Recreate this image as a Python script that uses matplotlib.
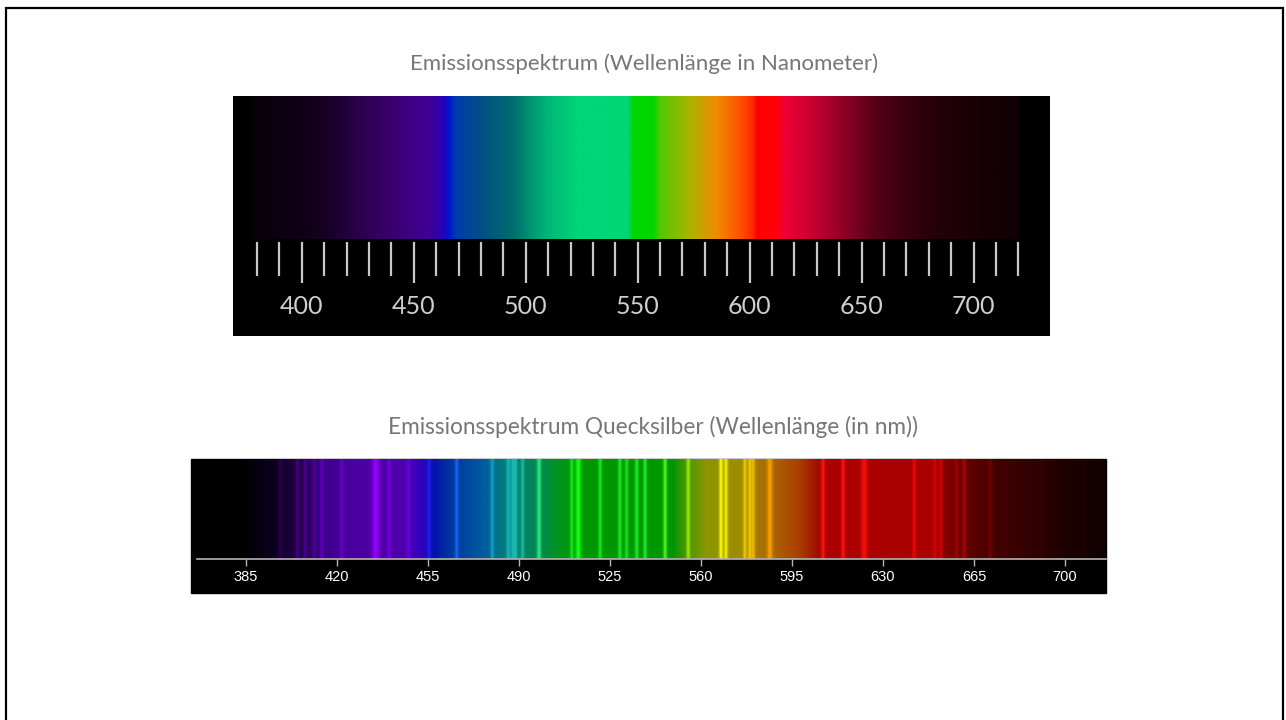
import numpy as np
import matplotlib.pyplot as plt
from matplotlib.patches import Rectangle

W, H = 1286, 720

# continuous spectrum: colour stops (wavelength in nm, RGB)
cont_nm = [380, 398, 413, 427, 442, 457, 463, 465.5, 469, 481, 494.5, 509, 524,
           545.5, 548, 557, 560, 573, 585, 596, 601.5, 603, 612, 615, 625, 640,
           655, 670, 685, 700, 720.5]
cont_rgb = [(8, 0, 8), (15, 0, 20), (25, 0, 40), (45, 0, 80), (60, 0, 115),
            (65, 0, 150), (40, 0, 180), (0, 20, 210), (0, 60, 170), (0, 80, 130),
            (0, 110, 110), (0, 180, 120), (0, 215, 120), (0, 215, 115), (0, 215, 0),
            (0, 215, 0), (80, 200, 0), (170, 180, 0), (240, 140, 0), (255, 80, 0),
            (255, 40, 0), (255, 0, 0), (255, 0, 10), (240, 0, 50), (210, 0, 50),
            (150, 0, 40), (90, 0, 25), (55, 0, 15), (35, 0, 8), (25, 0, 5), (15, 0, 5)]
scale_ticks = np.arange(380, 721, 10)
scale_labels = [400, 450, 500, 550, 600, 650, 700]

# mercury: background continuum
hg_bg_nm = [382.7, 389, 396.8, 405.8, 414.7, 427.6, 446.8, 451.9, 457.7, 462.8,
            475.7, 483.3, 492.3, 501.3, 506.4, 514, 549.3, 553.2, 562.2, 575,
            587.8, 598.1, 604.5, 608.3, 649, 652.6, 661.5, 671.8, 687.2, 700, 716]
hg_bg_rgb = [(0, 0, 0), (5, 0, 15), (15, 0, 35), (35, 0, 75), (60, 0, 140),
             (75, 0, 160), (80, 0, 175), (55, 0, 190), (0, 20, 170), (0, 50, 160),
             (0, 90, 160), (0, 120, 130), (0, 130, 100), (0, 140, 60), (0, 150, 20),
             (0, 150, 0), (0, 150, 0), (60, 150, 0), (140, 150, 0), (160, 140, 0),
             (170, 100, 0), (170, 60, 0), (160, 15, 0), (170, 0, 0), (170, 0, 0),
             (140, 0, 0), (100, 0, 0), (70, 0, 0), (50, 0, 0), (30, 0, 0), (15, 0, 0)]
# colour of the emission lines
hg_line_nm = [398, 435, 450, 455, 466, 480, 490, 498, 510, 540, 555, 568, 578,
              586, 600, 607, 660, 690, 710]
hg_line_rgb = [(90, 0, 170), (150, 0, 255), (110, 0, 255), (30, 30, 255), (30, 110, 255),
               (30, 180, 220), (40, 220, 200), (50, 240, 130), (20, 255, 20), (40, 255, 60),
               (170, 255, 0), (255, 255, 0), (255, 215, 0), (255, 170, 0), (255, 40, 20),
               (255, 20, 20), (230, 0, 0), (90, 0, 0), (60, 0, 0)]
# emission lines: position (nm), strength, half width (nm)
lines_nm = [398.1, 404.7, 407.7, 411.2, 414.1, 421.8, 434.9, 440.0, 447.4, 455.4,
            466.0, 479.7, 485.9, 487.6, 488.7, 491.4, 497.7, 510.3, 512.8, 521.2,
            528.8, 531.4, 535.3, 538.5, 546.2, 555.1, 567.7, 569.6, 576.9, 578.8,
            580.1, 586.5, 607.0, 614.7, 622.8, 642.0, 650.0, 652.3, 658.3, 661.2,
            671.2, 691.0, 707.7]
lines_amp = [0.3, 0.5, 0.5, 0.4, 0.6, 0.6, 1.0, 0.6, 0.6, 0.8,
             0.8, 0.7, 0.7, 0.7, 0.7, 0.6, 0.9, 0.8, 1.0, 0.8,
             0.8, 0.7, 0.8, 0.8, 0.9, 0.8, 1.0, 0.9, 0.8, 0.9,
             0.8, 0.9, 1.0, 1.0, 1.0, 0.9, 0.7, 0.7, 0.4, 0.6,
             0.4, 0.2, 0.2]
lines_w = [0.5, 0.5, 0.5, 0.5, 0.5, 0.5, 1.0, 0.5, 0.5, 0.5,
           0.5, 0.5, 0.6, 0.5, 0.5, 0.5, 0.6, 0.5, 0.75, 0.5,
           0.5, 0.5, 0.5, 0.5, 0.5, 0.5, 0.5, 0.5, 0.5, 0.5,
           0.5, 0.75, 0.5, 0.55, 0.85, 0.5, 0.5, 0.5, 0.5, 0.5,
           0.6, 0.5, 0.5]
hg_ticks = np.arange(385, 701, 35)


def interp_rgb(x, nm, rgb):
    rgb = np.asarray(rgb, float) / 255
    return np.stack([np.interp(x, nm, rgb[:, i]) for i in range(3)], axis=-1)


fig = plt.figure(figsize=(W / 100, H / 100), dpi=100)
fig.patch.set_facecolor('white')

# slide frame
fig.add_artist(Rectangle((6 / W, -0.1), 1277 / W, 1.1 - 8 / H, transform=fig.transFigure,
                         fill=False, edgecolor='black', lw=1.6))

title_kw = dict(ha='center', va='center', fontsize=16, color='#767676', family='Lato')
fig.text(644 / W, 1 - 64 / H, 'Emissionsspektrum (Wellenlänge in Nanometer)', **title_kw)
fig.text(653 / W, 1 - 427 / H, 'Emissionsspektrum Quecksilber (Wellenlänge (in nm))',
         ha='center', va='center', fontsize=16.3, color='#767676', family='Lato')

# --- continuous spectrum with scale ---
ax1 = fig.add_axes([233 / W, 1 - 336 / H, 817 / W, 240 / H])
ax1.set_facecolor('black')
wl = np.linspace(378, 720.5, 1600)
ax1.imshow(interp_rgb(wl, cont_nm, cont_rgb)[None, :, :], extent=[378, 720.5, 97, 240],
           aspect='auto', interpolation='bilinear')
long_t = scale_ticks[scale_ticks % 50 == 0]
short_t = scale_ticks[scale_ticks % 50 != 0]
ax1.vlines(short_t, 60, 94, color='#c8c8c8', lw=1.6)
ax1.vlines(long_t, 53, 94, color='#c8c8c8', lw=1.6)
for t in scale_labels:
    ax1.text(t, 29, str(t), ha='center', va='center', color='#cfcfcf',
             fontsize=18, family='Lato')
ax1.set_xlim(369.3, 734.1)
ax1.set_ylim(0, 240)
ax1.set_xticks([])
ax1.set_yticks([])
for s in ax1.spines.values():
    s.set_visible(False)

# --- mercury line spectrum ---
fig.add_artist(Rectangle((191 / W, 1 - 593 / H), 915 / W, 134 / H, transform=fig.transFigure,
                         color='black', zorder=-1))
ax2 = fig.add_axes([191 / W, 1 - 559 / H, 915 / W, 100 / H])
ax2.set_facecolor('black')
wl2 = np.linspace(363.85, 715.77, 3000)
img = interp_rgb(wl2, hg_bg_nm, hg_bg_rgb)
for c, a, w in zip(lines_nm, lines_amp, lines_w):
    col = interp_rgb(np.array([c]), hg_line_nm, hg_line_rgb)[0]
    k = a * np.exp(-0.5 * ((wl2 - c) / w) ** 2)
    img = img * (1 - k[:, None]) + col[None, :] * k[:, None]
ax2.imshow(img[None, :, :], extent=[363.85, 715.77, 0, 1], aspect='auto',
           interpolation='bilinear')
ax2.set_xlim(363.85, 715.77)
ax2.set_ylim(0, 1)
ax2.set_yticks([])
ax2.set_xticks(hg_ticks)
ax2.tick_params(axis='x', direction='out', length=5, width=1, color='#b4b4b4',
                labelcolor='white', labelsize=10.5, pad=3)
for lbl in ax2.get_xticklabels():
    lbl.set_family('Liberation Sans')
for k in ['top', 'left', 'right']:
    ax2.spines[k].set_visible(False)
ax2.spines['bottom'].set_color('#b4b4b4')
ax2.spines['bottom'].set_linewidth(1.2)
ax2.spines['bottom'].set_bounds(366.2, 715.77)

fig.savefig('out.png', dpi=100)
